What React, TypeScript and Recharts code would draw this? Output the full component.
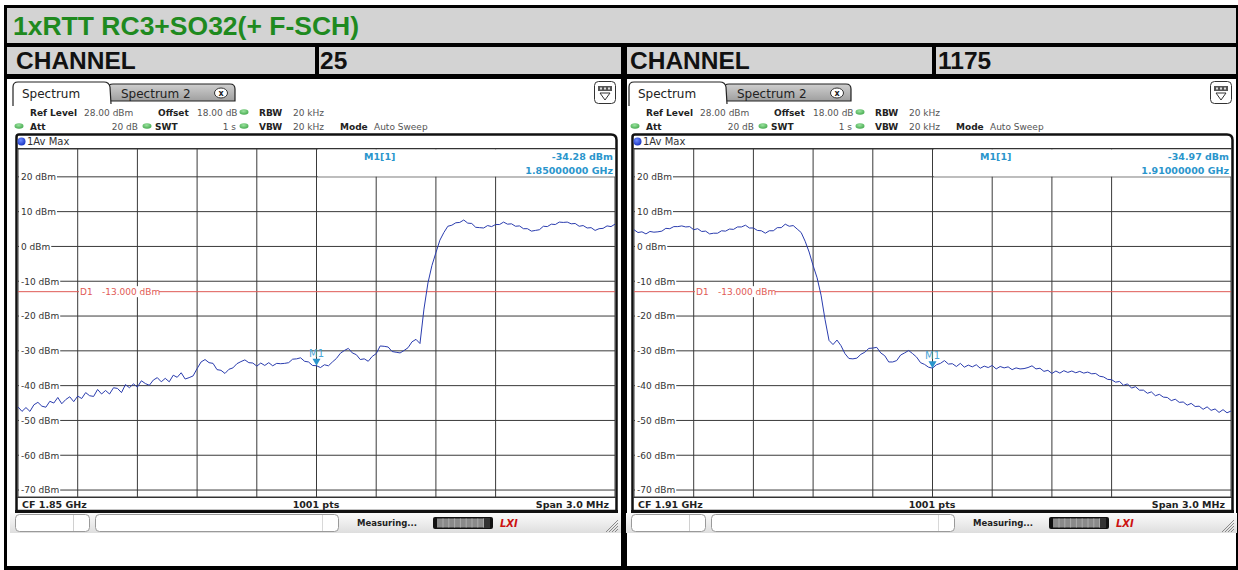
import React from 'react';
import { LineChart, Line, XAxis, YAxis, CartesianGrid, ReferenceLine, ReferenceDot } from 'recharts';

const FONT = '"DejaVu Sans", Verdana, sans-serif';
const TITLE_FONT = '"Liberation Sans", Arial, sans-serif';

const chartTitle = '1xRTT RC3+SO32(+ F-SCH)';
const channelHeading = 'CHANNEL';
const channelNumbers = ['25', '1175'];
const centerFreqs = [1850, 1910]; // MHz
const cfLabels = ['CF 1.85 GHz', 'CF 1.91 GHz'];
const spanMHz = 3;
const sweepPointsLabel = '1001 pts';
const spanLabel = 'Span 3.0 MHz';
const levelTicks = [20, 10, 0, -10, -20, -30, -40, -50, -60, -70];
const refLevel = 28;
const bottomLevel = -72;
const d1Level = -13;
const d1Text = ['D1', '-13.000 dBm'];
const markerLevels = [-34.28, -34.97];
const markerLevelLabels = ['-34.28 dBm', '-34.97 dBm'];
const markerFreqLabels = ['1.85000000 GHz', '1.91000000 GHz'];
const traceLabel = '1Av Max';

// Measured level (dBm), 151 samples across the 3 MHz span, channel 25
const channel25Trace = [
  -46.1, -47.4, -46.3, -47.4, -45.5, -44.8, -45.9, -46.2, -44.5, -45.0,
  -43.4, -45.2, -44.0, -43.2, -44.6, -43.0, -43.7, -42.0, -42.9, -43.1,
  -41.1, -42.4, -41.4, -42.4, -40.6, -40.8, -42.0, -39.7, -40.6, -39.5,
  -40.4, -38.6, -39.4, -39.9, -38.4, -37.7, -38.9, -37.9, -38.9, -37.0,
  -37.6, -36.3, -38.1, -37.7, -37.2, -35.1, -33.2, -32.5, -33.4, -33.6,
  -35.4, -35.6, -36.5, -35.3, -34.9, -33.7, -33.1, -32.6, -33.4, -33.5,
  -34.4, -33.5, -34.2, -33.4, -34.3, -33.6, -33.7, -33.6, -33.4, -32.4,
  -32.3, -32.0, -33.0, -33.2, -34.2, -34.28, -34.8, -34.0, -34.3, -33.2,
  -32.2, -30.7, -29.9, -29.3, -30.6, -31.1, -32.5, -32.3, -33.0, -31.6,
  -30.8, -28.6, -28.7, -28.9, -30.2, -30.4, -30.6, -29.9, -29.1, -27.4,
  -26.7, -27.9, -18.0, -10.5, -5.5, -1.8, 1.8, 4.0, 5.8, 6.1,
  6.8, 6.9, 7.6, 6.7, 6.6, 5.5, 5.4, 5.3, 6.0, 5.7,
  6.3, 6.3, 7.0, 6.4, 6.5, 5.8, 5.9, 5.1, 5.1, 4.4,
  4.6, 4.8, 5.8, 5.7, 6.4, 6.3, 7.0, 6.9, 7.0, 6.5,
  6.6, 5.8, 6.0, 5.3, 5.4, 4.6, 5.1, 5.2, 5.9, 5.7,
  6.4,
];

// Measured level (dBm), 151 samples across the 3 MHz span, channel 1175
const channel1175Trace = [
  4.8, 4.0, 4.2, 3.6, 4.3, 4.1, 4.2, 4.4, 5.2, 5.1,
  5.7, 5.7, 5.9, 5.6, 5.7, 4.8, 5.1, 4.3, 4.4, 3.6,
  3.8, 3.8, 4.5, 4.4, 5.0, 4.9, 5.6, 5.6, 6.1, 5.3,
  5.3, 4.6, 4.5, 3.8, 4.5, 4.5, 5.4, 5.4, 6.4, 5.8,
  6.0, 5.0, 4.0, 1.5, -1.6, -5.5, -9.0, -14.0, -21.0, -27.0,
  -28.2, -26.9, -28.5, -30.8, -32.2, -32.3, -32.1, -31.0, -30.4, -29.3,
  -29.2, -29.0, -30.6, -31.4, -33.2, -33.2, -32.8, -31.2, -30.6, -29.9,
  -30.8, -31.8, -33.4, -33.9, -34.7, -34.97, -34.0, -33.6, -32.8, -33.8,
  -33.7, -34.5, -33.6, -34.7, -34.1, -34.6, -34.0, -35.0, -34.4, -34.8,
  -34.2, -35.2, -34.5, -34.9, -34.6, -35.4, -34.9, -35.2, -35.1, -34.8,
  -34.3, -35.2, -35.0, -35.9, -35.6, -36.5, -35.8, -36.4, -35.7, -36.2,
  -35.8, -36.3, -35.9, -36.4, -36.1, -36.6, -36.5, -37.3, -37.5, -38.2,
  -38.3, -39.0, -38.8, -39.9, -39.5, -40.7, -40.3, -41.3, -41.3, -42.2,
  -41.8, -42.9, -42.5, -43.3, -43.4, -44.3, -43.9, -44.8, -44.7, -45.6,
  -45.1, -46.0, -45.9, -46.8, -46.1, -47.1, -46.7, -47.7, -46.9, -47.8,
  -47.3,
];

const traces = [channel25Trace, channel1175Trace];

const GRID_W = 597;
const GRID_H = 348;
const GRID_TOP = 149;
const GRID_LEFT = 18;
const PANEL_DX = [0, 616];

const MARKER_COLOR = '#2a95cc';
const TRACE_COLOR = '#2a3cae';
const D1_COLOR = '#df5a55';

function labelWidth(s: string) {
  let w = 0;
  for (const ch of s) {
    if (ch === '-') w += 3.25;
    else if (ch === ' ') w += 2.86;
    else if (ch === 'd') w += 5.72;
    else if (ch === 'B') w += 6.17;
    else if (ch === 'm') w += 8.77;
    else w += 5.72;
  }
  return w;
}

function LevelTick(props: any) {
  const { y, payload } = props;
  const txt = `${payload.value} dBm`;
  const w = labelWidth(txt);
  return (
    <g>
      <rect x={1} y={y - 5.5} width={w + 3} height={11} fill="#ffffff" />
      <text x={3} y={y + 3.3} fontSize={9} fontFamily={FONT} fill="#333">{txt}</text>
    </g>
  );
}

function D1Label(props: any) {
  const vb = props.viewBox || {};
  const y = vb.y ?? 0;
  return (
    <g>
      <rect x={61} y={y - 5.5} width={80} height={11} fill="#ffffff" />
      <text x={62} y={y + 3.3} fontSize={9} fontFamily={FONT} fill={D1_COLOR}>{d1Text[0]}</text>
      <text x={84} y={y + 3.3} fontSize={9} fontFamily={FONT} fill={D1_COLOR}>{d1Text[1]}</text>
    </g>
  );
}

function MarkerShape(props: any) {
  const { cx, cy } = props;
  return (
    <g>
      <polygon points={`${cx - 4},${cy - 7} ${cx + 4},${cy - 7} ${cx},${cy}`} fill={MARKER_COLOR} />
      <text x={cx} y={cy - 9} textAnchor="middle" fontSize={10} fontFamily={FONT} fill="#4aa6d8">M1</text>
    </g>
  );
}

function SpectrumChart({ idx }: { idx: number }) {
  const trace = traces[idx];
  const cf = centerFreqs[idx];
  const start = cf - spanMHz / 2;
  const data = trace.map((v, i) => ({ f: start + (i * spanMHz) / (trace.length - 1), v }));
  const xTicks = Array.from({ length: 11 }, (_, k) => start + (k * spanMHz) / 10);
  const dx = PANEL_DX[idx];
  return (
    <div style={{ position: 'absolute', left: dx + GRID_LEFT, top: GRID_TOP, width: GRID_W, height: GRID_H }}>
      <LineChart width={GRID_W} height={GRID_H} data={data} margin={{ top: 0, right: 0, bottom: 0, left: 0 }} style={{ overflow: 'visible' }}>
        <CartesianGrid stroke="#3a3a3a" strokeWidth={1} />
        <XAxis dataKey="f" type="number" domain={[start, start + spanMHz]} ticks={xTicks} hide allowDataOverflow />
        <YAxis
          type="number"
          domain={[bottomLevel, refLevel]}
          ticks={levelTicks}
          interval={0}
          mirror
          axisLine={false}
          tickLine={false}
          tick={<LevelTick />}
          allowDataOverflow
        />
        <ReferenceLine y={d1Level} stroke={D1_COLOR} strokeWidth={1} label={<D1Label />} />
        <Line dataKey="v" type="linear" stroke={TRACE_COLOR} strokeWidth={1} dot={false} isAnimationActive={false} />
        <ReferenceDot x={cf} y={markerLevels[idx]} shape={<MarkerShape />} />
      </LineChart>
    </div>
  );
}

function GreenDot({ x, y }: { x: number; y: number }) {
  return <ellipse cx={x} cy={y} rx={4.5} ry={2.8} fill="url(#greenDot)" />;
}

function T({ x, y, s, b, size = 9, anchor = 'start', fill = '#333' }: any) {
  return (
    <text x={x} y={y} fontSize={size} fontFamily={FONT} fontWeight={b ? 'bold' : 'normal'} textAnchor={anchor} fill={fill}>
      {s}
    </text>
  );
}

function PanelFrame({ idx }: { idx: number }) {
  const dx = PANEL_DX[idx];
  const l1 = 115.5;
  const l2 = 129.5;
  return (
    <g>
      {/* tabs */}
      <path d={`M${dx + 108} 102 V89 Q${dx + 108} 84 ${dx + 113} 84 H${dx + 230} Q${dx + 235} 84 ${dx + 235} 89 V101 H${dx + 108}`} fill="url(#tabGray)" stroke="#222" strokeWidth={1.2} />
      <T x={dx + 121} y={97.5} s="Spectrum 2" size={12} fill="#222" />
      <ellipse cx={dx + 221} cy={93} rx={6.5} ry={5} fill="#fff" stroke="#333" strokeWidth={1} />
      <T x={dx + 221} y={96} s="x" size={8} b anchor="middle" fill="#222" />
      <path d={`M${dx + 13} 106 V87 Q${dx + 13} 82 ${dx + 18} 82 H${dx + 104} Q${dx + 109} 82 ${dx + 110} 87 L${dx + 111} 104`} fill="#fff" stroke="#222" strokeWidth={1.2} />
      <T x={dx + 22} y={97.5} s="Spectrum" size={12} fill="#222" />
      {/* icon top right */}
      <rect x={dx + 594.5} y={81.5} width={21} height={22} rx={4} fill="#fff" stroke="#333" strokeWidth={1} />
      <rect x={dx + 598} y={86} width={14} height={5} fill="#555" />
      <rect x={dx + 600} y={87.5} width={2} height={2} fill="#ddd" />
      <rect x={dx + 604} y={87.5} width={2} height={2} fill="#ddd" />
      <rect x={dx + 608} y={87.5} width={2} height={2} fill="#ddd" />
      <polygon points={`${dx + 600},${93} ${dx + 610},${93} ${dx + 605},${100}`} fill="none" stroke="#333" strokeWidth={1} />
      {/* info lines */}
      <T x={dx + 30} y={l1} s="Ref Level" b fill="#222" />
      <T x={dx + 84} y={l1} s="28.00 dBm" fill="#555" />
      <T x={dx + 158} y={l1} s="Offset" b fill="#222" />
      <T x={dx + 197} y={l1} s="18.00 dB" fill="#555" />
      <GreenDot x={dx + 244} y={l1 - 3.5} />
      <T x={dx + 259} y={l1} s="RBW" b fill="#222" />
      <T x={dx + 293} y={l1} s="20 kHz" fill="#555" />
      <GreenDot x={dx + 19} y={l2 - 3.5} />
      <T x={dx + 30} y={l2} s="Att" b fill="#222" />
      <T x={dx + 138} y={l2} s="20 dB" anchor="end" fill="#555" />
      <GreenDot x={dx + 147} y={l2 - 3.5} />
      <T x={dx + 155} y={l2} s="SWT" b fill="#222" />
      <T x={dx + 236} y={l2} s="1 s" anchor="end" fill="#555" />
      <GreenDot x={dx + 244} y={l2 - 3.5} />
      <T x={dx + 259} y={l2} s="VBW" b fill="#222" />
      <T x={dx + 293} y={l2} s="20 kHz" fill="#555" />
      <T x={dx + 340} y={l2} s="Mode" b fill="#222" />
      <T x={dx + 374} y={l2} s="Auto Sweep" fill="#555" />
      {/* plot box */}
      <path d={`M${dx + 16.5} 511 V137 Q${dx + 16.5} 134.5 ${dx + 19} 134.5 H${dx + 611} Q${dx + 616.5} 134.5 ${dx + 616.5} 140 V511 Z`} fill="#fff" stroke="#111" strokeWidth={2.5} />
      <line x1={dx + 15} x2={dx + 618} y1={511.5} y2={511.5} stroke="#111" strokeWidth={3} />
      <line x1={dx + 17} x2={dx + 616} y1={148.5} y2={148.5} stroke="#333" strokeWidth={1} />
      <line x1={dx + 17} x2={dx + 616} y1={497.5} y2={497.5} stroke="#333" strokeWidth={1} />
      <circle cx={dx + 21.5} cy={141.5} r={4} fill="url(#blueDot)" />
      <T x={dx + 27} y={145} s={traceLabel} size={10} fill="#333" />
      <T x={dx + 22} y={507.5} s={cfLabels[idx]} b size={9.5} fill="#222" />
      <T x={dx + 316} y={507.5} s={sweepPointsLabel} b size={9.5} anchor="middle" fill="#222" />
      <T x={dx + 609} y={507.5} s={spanLabel} b size={9.5} anchor="end" fill="#222" />
      {/* status bar */}
      <rect x={dx + 10} y={513} width={611} height={20} fill="url(#statusGrad)" />
      <rect x={dx + 15.5} y={514.5} width={74} height={17} rx={4} fill="#fff" stroke="#9a9a9a" />
      <line x1={dx + 73.5} x2={dx + 73.5} y1={515} y2={531} stroke="#d0d0d0" />
      <rect x={dx + 95.5} y={514.5} width={243} height={17} rx={4} fill="#fff" stroke="#9a9a9a" />
      <line x1={dx + 322.5} x2={dx + 322.5} y1={515} y2={531} stroke="#d8d8d8" />
      <T x={dx + 357} y={526} s="Measuring..." b size={8.5} fill="#222" />
      <rect x={dx + 433} y={517} width={60} height={12} rx={2} fill="#111" />
      <rect x={dx + 437} y={518.5} width={47} height={9} fill="#8a8a8a" />
      {[0, 1, 2, 3, 4, 5, 6, 7].map((k) => (
        <line key={k} x1={dx + 443 + k * 5.8} x2={dx + 443 + k * 5.8} y1={518.5} y2={527.5} stroke="#b5b5b5" strokeWidth={0.8} />
      ))}
      <rect x={dx + 484} y={518} width={6} height={10} fill="#333" />
      <text x={dx + 500} y={527} fontSize={10} fontWeight="bold" fontStyle="italic" fontFamily={FONT} fill="#cc1111">LXI</text>
      {[0, 1, 2, 3].map((k) => (
        <line key={k} x1={dx + 618} y1={520 + k * 3} x2={dx + 606 + k * 3} y2={532} stroke="#888" strokeWidth={1} />
      ))}
    </g>
  );
}

function MarkerInfo({ idx }: { idx: number }) {
  const dx = PANEL_DX[idx];
  return (
    <g>
      <rect x={dx + 318} y={149.5} width={297} height={27} fill="#fff" />
      <T x={dx + 364} y={159.5} s="M1[1]" size={9.5} b fill={MARKER_COLOR} />
      <T x={dx + 613} y={159.5} s={markerLevelLabels[idx]} size={9.5} b anchor="end" fill={MARKER_COLOR} />
      <T x={dx + 613} y={174} s={markerFreqLabels[idx]} size={9.5} b anchor="end" fill={MARKER_COLOR} />
    </g>
  );
}

export default function App() {
  return (
    <div style={{ position: 'absolute', left: 0, top: 0, width: 1238, height: 570, background: '#fff', overflow: 'hidden' }}>
      <svg width={1238} height={570} style={{ position: 'absolute', left: 0, top: 0 }}>
        <defs>
          <linearGradient id="tabGray" x1="0" y1="0" x2="0" y2="1">
            <stop offset="0" stopColor="#cfcfcf" />
            <stop offset="1" stopColor="#9c9c9c" />
          </linearGradient>
          <linearGradient id="statusGrad" x1="0" y1="0" x2="0" y2="1">
            <stop offset="0" stopColor="#fbfbfb" />
            <stop offset="1" stopColor="#dedede" />
          </linearGradient>
          <radialGradient id="greenDot" cx="0.45" cy="0.35" r="0.7">
            <stop offset="0" stopColor="#9be39f" />
            <stop offset="1" stopColor="#3ea548" />
          </radialGradient>
          <radialGradient id="blueDot" cx="0.4" cy="0.35" r="0.7">
            <stop offset="0" stopColor="#6f8cff" />
            <stop offset="1" stopColor="#1530c0" />
          </radialGradient>
        </defs>
        <rect x={4} y={5} width={1234} height={565} fill="#000" />
        <rect x={7} y={8} width={1229} height={35} fill="#d3d3d3" />
        <text x={13} y={35} fontSize={26.5} fontWeight="bold" fontFamily={TITLE_FONT} fill="#1f8a1f">{chartTitle}</text>
        <rect x={7} y={47} width={308} height={27} fill="#d3d3d3" />
        <rect x={319} y={47} width={302} height={27} fill="#d3d3d3" />
        <rect x={627} y={47} width={305} height={27} fill="#d3d3d3" />
        <rect x={936} y={47} width={300} height={27} fill="#d3d3d3" />
        <text x={16} y={69} fontSize={24.5} fontWeight="bold" fontFamily={TITLE_FONT} fill="#111">{channelHeading}</text>
        <text x={320} y={69} fontSize={24.5} fontWeight="bold" fontFamily={TITLE_FONT} fill="#111">{channelNumbers[0]}</text>
        <text x={630} y={69} fontSize={24.5} fontWeight="bold" fontFamily={TITLE_FONT} fill="#111">{channelHeading}</text>
        <text x={938} y={69} fontSize={24.5} fontWeight="bold" fontFamily={TITLE_FONT} fill="#111">{channelNumbers[1]}</text>
        <rect x={7} y={79} width={614} height={487} fill="#fff" />
        <rect x={627} y={79} width={609} height={487} fill="#fff" />
        <PanelFrame idx={0} />
        <PanelFrame idx={1} />
      </svg>
      <SpectrumChart idx={0} />
      <SpectrumChart idx={1} />
      <svg width={1238} height={570} style={{ position: 'absolute', left: 0, top: 0, pointerEvents: 'none' }}>
        <MarkerInfo idx={0} />
        <MarkerInfo idx={1} />
      </svg>
    </div>
  );
}
